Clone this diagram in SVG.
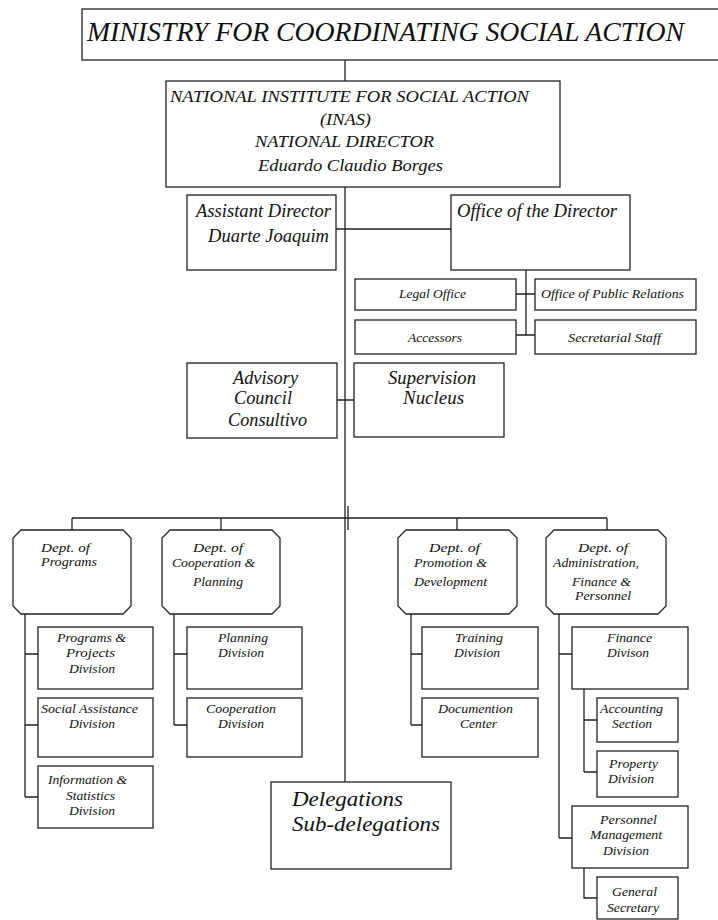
<svg xmlns="http://www.w3.org/2000/svg" width="718" height="920" viewBox="0 0 718 920">
<defs>
<style>
.box{fill:#fff;stroke:#222;stroke-width:1.3}
.ln{fill:none;stroke:#222;stroke-width:1.3}
text{font-family:"Liberation Serif","Times New Roman",serif;font-style:italic;fill:#111}
.t29{font-size:27.5px}
.t18{font-size:18px}
.t17{font-size:17px}
.t19{font-size:19px}
.t23{font-size:22px}
.t13{font-size:13.5px}
</style>
</defs>
<rect width="718" height="920" fill="#fff"/>
<g id="connectors">
<path class="ln" d="M345,60V81M345,187V782M348,506V530M336,229H451"/>
<path class="ln" d="M526,270V335M516,294H535M516,335H535M337,400H354"/>
<path class="ln" d="M72,518H607M72,518V530M221,518V530M457,518V530M607,518V530"/>
<path class="ln" d="M25,614V797M25,654H38M25,725H38M25,797H38"/>
<path class="ln" d="M174,614V725M174,654H187M174,725H187"/>
<path class="ln" d="M411,614V725M411,654H422M411,725H422"/>
<path class="ln" d="M559,614V838M559,654H572M559,838H572"/>
<path class="ln" d="M584,689V772M584,720H597M584,772H597M584,868V898H597"/>
</g>
<g id="ministry"><rect class="box" x="82" y="9" width="640" height="51"/>
<text class="t29" x="87" y="41" textLength="597" lengthAdjust="spacingAndGlyphs">MINISTRY FOR COORDINATING SOCIAL ACTION</text></g>
<g id="inas"><rect class="box" x="166" y="81" width="394" height="106"/>
<text class="t17" x="170" y="102" textLength="359" lengthAdjust="spacingAndGlyphs">NATIONAL INSTITUTE FOR SOCIAL ACTION</text>
<text class="t17" x="320" y="125" textLength="51" lengthAdjust="spacingAndGlyphs">(INAS)</text>
<text class="t17" x="255" y="147" textLength="179" lengthAdjust="spacingAndGlyphs">NATIONAL DIRECTOR</text>
<text class="t17" x="258" y="171" textLength="185" lengthAdjust="spacingAndGlyphs">Eduardo Claudio Borges</text></g>
<g id="assistant"><rect class="box" x="187" y="195" width="149" height="75"/>
<text class="t18" x="196" y="217" textLength="135" lengthAdjust="spacingAndGlyphs">Assistant Director</text>
<text class="t18" x="208" y="242" textLength="121" lengthAdjust="spacingAndGlyphs">Duarte Joaquim</text></g>
<g id="office"><rect class="box" x="451" y="195" width="179" height="75"/>
<text class="t18" x="457" y="217" textLength="160" lengthAdjust="spacingAndGlyphs">Office of the Director</text></g>
<g id="legal"><rect class="box" x="355" y="279" width="161" height="31"/>
<text class="t13" x="399" y="298" textLength="67" lengthAdjust="spacingAndGlyphs">Legal Office</text></g>
<g id="opr"><rect class="box" x="535" y="279" width="161" height="31"/>
<text class="t13" x="541" y="298" textLength="143" lengthAdjust="spacingAndGlyphs">Office of Public Relations</text></g>
<g id="accessors"><rect class="box" x="355" y="320" width="161" height="34"/>
<text class="t13" x="408" y="342" textLength="54" lengthAdjust="spacingAndGlyphs">Accessors</text></g>
<g id="secretarial"><rect class="box" x="535" y="320" width="161" height="34"/>
<text class="t13" x="568" y="342" textLength="93" lengthAdjust="spacingAndGlyphs">Secretarial Staff</text></g>
<g id="advisory"><rect class="box" x="187" y="363" width="150" height="75"/>
<text class="t19" x="233" y="384" textLength="65" lengthAdjust="spacingAndGlyphs">Advisory</text>
<text class="t19" x="234" y="404" textLength="58" lengthAdjust="spacingAndGlyphs">Council</text>
<text class="t19" x="228" y="426" textLength="79" lengthAdjust="spacingAndGlyphs">Consultivo</text></g>
<g id="supervision"><rect class="box" x="354" y="363" width="150" height="74"/>
<text class="t19" x="388" y="384" textLength="88" lengthAdjust="spacingAndGlyphs">Supervision</text>
<text class="t19" x="403" y="404" textLength="61" lengthAdjust="spacingAndGlyphs">Nucleus</text></g>
<g id="dept-programs"><polygon class="box" points="21,530 123,530 131,538 131,606 123,614 21,614 13,606 13,538"/>
<text class="t13" x="41" y="552" textLength="49" lengthAdjust="spacingAndGlyphs">Dept.  of</text>
<text class="t13" x="41" y="566" textLength="56" lengthAdjust="spacingAndGlyphs">Programs</text></g>
<g id="dept-coop"><polygon class="box" points="170,530 272,530 280,538 280,606 272,614 170,614 162,606 162,538"/>
<text class="t13" x="193" y="552" textLength="50" lengthAdjust="spacingAndGlyphs">Dept.  of</text>
<text class="t13" x="172" y="567" textLength="83" lengthAdjust="spacingAndGlyphs">Cooperation &amp;</text>
<text class="t13" x="193" y="586" textLength="50" lengthAdjust="spacingAndGlyphs">Planning</text></g>
<g id="dept-promo"><polygon class="box" points="406,530 509,530 517,538 517,606 509,614 406,614 398,606 398,538"/>
<text class="t13" x="429" y="552" textLength="51" lengthAdjust="spacingAndGlyphs">Dept.  of</text>
<text class="t13" x="414" y="567" textLength="73" lengthAdjust="spacingAndGlyphs">Promotion &amp;</text>
<text class="t13" x="414" y="586" textLength="73" lengthAdjust="spacingAndGlyphs">Development</text></g>
<g id="dept-admin"><polygon class="box" points="554,530 658,530 666,538 666,606 658,614 554,614 546,606 546,538"/>
<text class="t13" x="578" y="552" textLength="50" lengthAdjust="spacingAndGlyphs">Dept.  of</text>
<text class="t13" x="553" y="567" textLength="86" lengthAdjust="spacingAndGlyphs">Administration,</text>
<text class="t13" x="572" y="586" textLength="59" lengthAdjust="spacingAndGlyphs">Finance &amp;</text>
<text class="t13" x="575" y="600" textLength="56" lengthAdjust="spacingAndGlyphs">Personnel</text></g>
<g id="prog-proj"><rect class="box" x="38" y="627" width="115" height="62"/>
<text class="t13" x="57" y="642" textLength="69" lengthAdjust="spacingAndGlyphs">Programs &amp;</text>
<text class="t13" x="66" y="657" textLength="49" lengthAdjust="spacingAndGlyphs">Projects</text>
<text class="t13" x="69" y="673" textLength="46" lengthAdjust="spacingAndGlyphs">Division</text></g>
<g id="social-assist"><rect class="box" x="38" y="698" width="115" height="59"/>
<text class="t13" x="41" y="713" textLength="97" lengthAdjust="spacingAndGlyphs">Social Assistance</text>
<text class="t13" x="69" y="728" textLength="46" lengthAdjust="spacingAndGlyphs">Division</text></g>
<g id="info-stat"><rect class="box" x="38" y="766" width="115" height="62"/>
<text class="t13" x="48" y="784" textLength="79" lengthAdjust="spacingAndGlyphs">Information &amp;</text>
<text class="t13" x="66" y="800" textLength="49" lengthAdjust="spacingAndGlyphs">Statistics</text>
<text class="t13" x="69" y="815" textLength="46" lengthAdjust="spacingAndGlyphs">Division</text></g>
<g id="planning"><rect class="box" x="187" y="627" width="115" height="62"/>
<text class="t13" x="218" y="642" textLength="50" lengthAdjust="spacingAndGlyphs">Planning</text>
<text class="t13" x="218" y="657" textLength="46" lengthAdjust="spacingAndGlyphs">Division</text></g>
<g id="coop-div"><rect class="box" x="187" y="698" width="115" height="59"/>
<text class="t13" x="206" y="713" textLength="70" lengthAdjust="spacingAndGlyphs">Cooperation</text>
<text class="t13" x="218" y="728" textLength="46" lengthAdjust="spacingAndGlyphs">Division</text></g>
<g id="training"><rect class="box" x="422" y="627" width="116" height="62"/>
<text class="t13" x="455" y="642" textLength="48" lengthAdjust="spacingAndGlyphs">Training</text>
<text class="t13" x="454" y="657" textLength="46" lengthAdjust="spacingAndGlyphs">Division</text></g>
<g id="documention"><rect class="box" x="422" y="698" width="116" height="59"/>
<text class="t13" x="438" y="713" textLength="75" lengthAdjust="spacingAndGlyphs">Documention</text>
<text class="t13" x="460" y="728" textLength="37" lengthAdjust="spacingAndGlyphs">Center</text></g>
<g id="finance"><rect class="box" x="572" y="627" width="116" height="62"/>
<text class="t13" x="607" y="642" textLength="45" lengthAdjust="spacingAndGlyphs">Finance</text>
<text class="t13" x="607" y="657" textLength="42" lengthAdjust="spacingAndGlyphs">Divison</text></g>
<g id="accounting"><rect class="box" x="597" y="698" width="81" height="44"/>
<text class="t13" x="600" y="713" textLength="63" lengthAdjust="spacingAndGlyphs">Accounting</text>
<text class="t13" x="612" y="728" textLength="40" lengthAdjust="spacingAndGlyphs">Section</text></g>
<g id="property"><rect class="box" x="597" y="751" width="81" height="46"/>
<text class="t13" x="609" y="768" textLength="49" lengthAdjust="spacingAndGlyphs">Property</text>
<text class="t13" x="608" y="783" textLength="46" lengthAdjust="spacingAndGlyphs">Division</text></g>
<g id="personnel"><rect class="box" x="572" y="806" width="116" height="62"/>
<text class="t13" x="600" y="824" textLength="57" lengthAdjust="spacingAndGlyphs">Personnel</text>
<text class="t13" x="590" y="839" textLength="72" lengthAdjust="spacingAndGlyphs">Management</text>
<text class="t13" x="603" y="855" textLength="46" lengthAdjust="spacingAndGlyphs">Division</text></g>
<g id="gen-sec"><rect class="box" x="597" y="877" width="81" height="42"/>
<text class="t13" x="612" y="896" textLength="45" lengthAdjust="spacingAndGlyphs">General</text>
<text class="t13" x="607" y="912" textLength="52" lengthAdjust="spacingAndGlyphs">Secretary</text></g>
<g id="delegations"><rect class="box" x="271" y="782" width="180" height="87"/>
<text class="t23" x="292" y="806" textLength="111" lengthAdjust="spacingAndGlyphs">Delegations</text>
<text class="t23" x="292" y="831" textLength="148" lengthAdjust="spacingAndGlyphs">Sub-delegations</text></g>
</svg>
